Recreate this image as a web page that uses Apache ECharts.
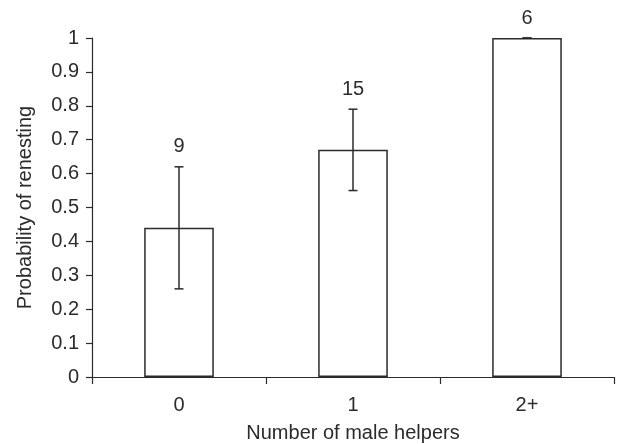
<!DOCTYPE html>
<html>
<head>
<meta charset="utf-8">
<script src="https://cdn.jsdelivr.net/npm/echarts@6/dist/echarts.min.js"></script>
<style>html,body{margin:0;padding:0;background:#fff}#c{width:617px;height:444px}</style>
</head>
<body>
<div id="c"></div>
<script>
var categories = ['0', '1', '2+'];
var probabilities = [0.44, 0.67, 1.0];
var errLow = [0.26, 0.55, 1.0];
var errHigh = [0.62, 0.79, 1.0];
var sampleSizes = [9, 15, 6];
var yTicks = [0, 0.1, 0.2, 0.3, 0.4, 0.5, 0.6, 0.7, 0.8, 0.9, 1];

var FONT = "'Liberation Sans', Arial, sans-serif";
var INK = '#2b2b2b';

var chart = echarts.init(document.getElementById('c'), null, {renderer: 'canvas'});
var errData = categories.map(function (c, i) { return [i, errLow[i], errHigh[i], sampleSizes[i]]; });

chart.setOption({
  animation: false,
  backgroundColor: '#fff',
  grid: {left: 92, right: 3, top: 38, bottom: 67, containLabel: false, outerBoundsMode: 'none'},
  xAxis: {
    type: 'category',
    data: categories,
    boundaryGap: true,
    name: 'Number of male helpers',
    nameLocation: 'middle',
    nameGap: 46,
    nameTextStyle: {fontFamily: FONT, fontSize: 20, color: INK},
    axisLine: {lineStyle: {color: INK, width: 1.2}},
    axisTick: {show: true, length: 7, lineStyle: {color: INK, width: 1.2}},
    axisLabel: {fontFamily: FONT, fontSize: 20, color: INK, margin: 18}
  },
  yAxis: {
    type: 'value',
    min: yTicks[0],
    max: yTicks[yTicks.length - 1],
    interval: 0.1,
    name: 'Probability of renesting',
    nameLocation: 'middle',
    nameGap: 57,
    nameTextStyle: {fontFamily: FONT, fontSize: 20, color: INK},
    splitLine: {show: false},
    axisLine: {show: true, lineStyle: {color: INK, width: 1.2}},
    axisTick: {show: true, length: 6, lineStyle: {color: INK, width: 1.2}},
    axisLabel: {fontFamily: FONT, fontSize: 20, color: INK, margin: 13,
      formatter: function (v) { return String(Math.round(v * 10) / 10); }}
  },
  series: [
    {
      type: 'bar',
      data: probabilities,
      barWidth: '40%',
      itemStyle: {color: '#fff', borderColor: INK, borderWidth: 1.5},
      silent: true
    },
    {
      type: 'custom',
      data: errData,
      silent: true,
      z: 5,
      renderItem: function (params, api) {
        var x = api.value(0);
        var lo = api.coord([x, api.value(1)]);
        var hi = api.coord([x, api.value(2)]);
        var hw = 4.5;
        var st = {stroke: INK, lineWidth: 1.5};
        return {
          type: 'group',
          children: [
            {type: 'line', shape: {x1: lo[0], y1: lo[1], x2: hi[0], y2: hi[1]}, style: st},
            {type: 'line', shape: {x1: lo[0] - hw, y1: lo[1], x2: lo[0] + hw, y2: lo[1]}, style: st},
            {type: 'line', shape: {x1: hi[0] - hw, y1: hi[1], x2: hi[0] + hw, y2: hi[1]}, style: st},
            {type: 'text', style: {
              text: String(api.value(3)), x: hi[0], y: hi[1] - 20,
              align: 'center', verticalAlign: 'middle',
              font: '20px ' + FONT, fill: INK
            }}
          ]
        };
      }
    }
  ]
});
</script>
</body>
</html>
